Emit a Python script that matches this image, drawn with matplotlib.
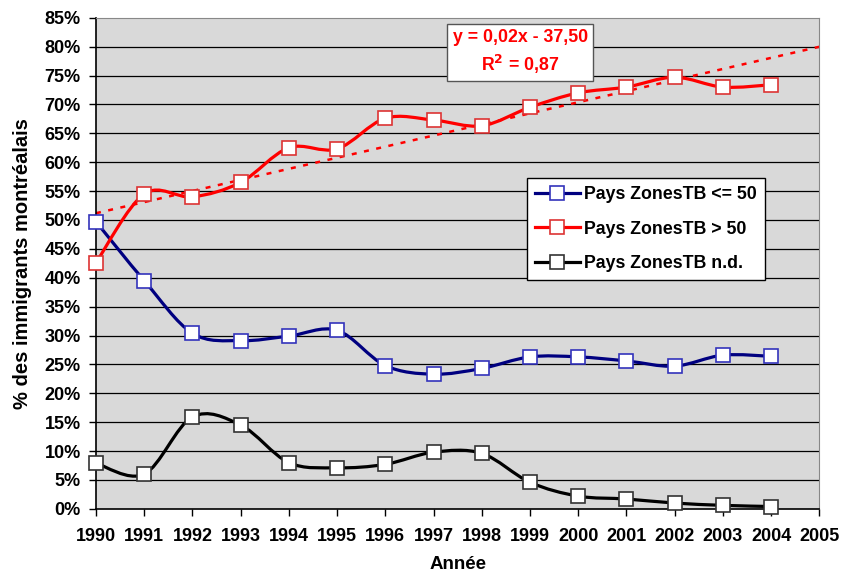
import matplotlib.pyplot as plt
import numpy as np
from matplotlib.path import Path
from matplotlib.patches import PathPatch
from matplotlib.lines import Line2D
from matplotlib.ticker import FuncFormatter

plt.rcParams['font.family'] = ['Liberation Sans', 'DejaVu Sans']
plt.rcParams['font.weight'] = 'bold'

# data
years = np.arange(1990, 2005)
pays_le50 = [49.7, 39.5, 30.4, 29.1, 29.9, 30.9, 24.8, 23.3, 24.3, 26.3, 26.3, 25.6, 24.7, 26.6, 26.4]
pays_gt50 = [42.6, 54.5, 54.0, 56.5, 62.5, 62.3, 67.6, 67.3, 66.3, 69.5, 72.0, 73.0, 74.7, 73.0, 73.4]
pays_nd = [7.9, 6.0, 15.9, 14.5, 8.0, 7.1, 7.7, 9.8, 9.6, 4.6, 2.2, 1.7, 1.0, 0.6, 0.4]
labels = ['Pays ZonesTB <= 50', 'Pays ZonesTB > 50', 'Pays ZonesTB n.d.']
colors = ['#000080', '#ff0000', '#000000']
edges = ['#3333bb', '#dd3333', '#333333']


def smooth_path(x, y):
    # excel-like smoothed line: cubic bezier through the points
    pts = np.column_stack([x, y]).astype(float)
    n = len(pts)
    verts = [pts[0]]
    codes = [Path.MOVETO]
    for i in range(n - 1):
        p0 = pts[max(i - 1, 0)]
        p1 = pts[i]
        p2 = pts[i + 1]
        p3 = pts[min(i + 2, n - 1)]
        c1 = p1 + (p2 - p0) / 6
        c2 = p2 - (p3 - p1) / 6
        verts += [c1, c2, p2]
        codes += [Path.CURVE4] * 3
    return Path(verts, codes)


fig = plt.figure(figsize=(8.42, 5.73), dpi=100)
ax = fig.add_axes([0.114, 0.112, 0.859, 0.857])
ax.set_facecolor('#d9d9d9')

for v in range(5, 85, 5):
    ax.axhline(v, color='black', lw=0.9, zorder=1)

series = [pays_le50, pays_gt50, pays_nd]
handles = []
for vals, c, ec, lab in zip(series, colors, edges, labels):
    ax.add_patch(PathPatch(smooth_path(years, vals), fill=False, ec=c, lw=2.3, zorder=3))
    ax.plot(years, vals, ls='none', marker='s', ms=10.5, mfc='white', mec=ec, mew=1.2,
            zorder=4, clip_on=False)
    handles.append(Line2D([], [], color=c, lw=2.3, marker='s', ms=10, mfc='white', mec=ec, mew=1.2))

# linear trend on the > 50 series, extended one year
slope, inter = np.polyfit(years, pays_gt50, 1)
tx = np.array([1990, 2005])
ax.plot(tx, slope * tx + inter, color='#ff0000', lw=1.8, ls=(0, (2, 3)), zorder=2)

ax.text(1998.8, 79.0, 'y = 0,02x - 37,50\nR$^2$ = 0,87', color='#ff0000', fontsize=12.8,
        fontweight='bold', ha='center', va='center', linespacing=1.4, zorder=5,
        bbox=dict(boxstyle='square,pad=0.3', fc='white', ec='#555555', lw=1))

leg = ax.legend(handles, labels, loc='upper left', bbox_to_anchor=(0.596, 0.674),
                borderaxespad=0, fontsize=12.8, frameon=True, fancybox=False,
                edgecolor='black', framealpha=1, handlelength=2.5, labelspacing=1.0,
                borderpad=0.45, handletextpad=0.25)
leg.get_frame().set_linewidth(1)
leg.set_zorder(6)

ax.set_xlim(1990, 2005)
ax.set_ylim(0, 85)
ax.set_xticks(np.arange(1990, 2006))
ax.set_yticks(np.arange(0, 86, 5))
ax.yaxis.set_major_formatter(FuncFormatter(lambda v, p: '%d%%' % v))
ax.tick_params(labelsize=13, direction='out', length=5, width=1)
ax.tick_params(axis='x', pad=9)
ax.tick_params(axis='y', pad=6)
for lab in ax.get_xticklabels() + ax.get_yticklabels():
    lab.set_fontweight('bold')
ax.spines['top'].set_color('#888888')
ax.spines['right'].set_color('#888888')
ax.spines['left'].set_linewidth(1.2)
ax.spines['bottom'].set_linewidth(1.2)

ax.set_xlabel('Année', fontsize=13.5, fontweight='bold')
ax.set_ylabel('% des immigrants montréalais', fontsize=14.5, fontweight='bold')
ax.xaxis.set_label_coords(0.5, -0.114)
ax.yaxis.set_label_coords(-0.102, 0.5)
ax.xaxis.label.set_va('center')
ax.yaxis.label.set_va('center')

fig.savefig('out.png', dpi=100)
